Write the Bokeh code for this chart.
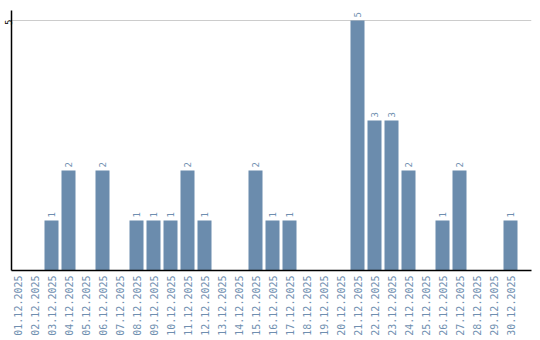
import math
from bokeh.plotting import figure
from bokeh.models import ColumnDataSource, Range1d, FixedTicker, Title
from bokeh.core.properties import value
from bokeh.embed import file_html
from bokeh.resources import INLINE

dates = ["01.12.2025", "02.12.2025", "03.12.2025", "04.12.2025", "05.12.2025",
         "06.12.2025", "07.12.2025", "08.12.2025", "09.12.2025", "10.12.2025",
         "11.12.2025", "12.12.2025", "13.12.2025", "14.12.2025", "15.12.2025",
         "16.12.2025", "17.12.2025", "18.12.2025", "19.12.2025", "20.12.2025",
         "21.12.2025", "22.12.2025", "23.12.2025", "24.12.2025", "25.12.2025",
         "26.12.2025", "27.12.2025", "28.12.2025", "29.12.2025", "30.12.2025"]
counts = [0, 0, 1, 2, 0, 2, 0, 1, 1, 1, 2, 1, 0, 0, 2, 1, 1, 0, 0, 0,
          5, 3, 3, 2, 0, 1, 2, 0, 0, 1]
y_ticks = [5]
y_tick_labels = ["5"]

BAR = "#6b8cad"
LABEL = "#6f8fb0"
FONT = "DejaVu Sans Mono"

idx = list(range(len(dates)))
src = ColumnDataSource(dict(x=idx, y=counts))
nz = [(i, c) for i, c in zip(idx, counts) if c > 0]
lab = ColumnDataSource(dict(x=[i for i, _ in nz], y=[c for _, c in nz],
                            t=[str(c) for _, c in nz]))

p = figure(width=540, height=340, output_backend="svg", toolbar_location=None,
           x_range=Range1d(-6 / 17, 29 + 21 / 17), y_range=Range1d(0, 5.2))
p.min_border_left = 11
p.min_border_right = 9
p.min_border_top = 10
p.min_border_bottom = 70
p.outline_line_color = None
p.background_fill_color = "white"
p.border_fill_color = "white"

p.vbar(x="x", top="y", width=14 / 17, source=src, fill_color=BAR, line_color=None)
p.text(x="x", y="y", text="t", source=lab, angle=math.pi / 2, text_align="left",
       text_baseline="middle", y_offset=-3, text_color=LABEL,
       text_font=value(FONT), text_font_size="9px")

p.xgrid.visible = False
p.ygrid.ticker = FixedTicker(ticks=y_ticks)
p.ygrid.grid_line_color = "#cccccc"
p.ygrid.grid_line_width = 1

xa = p.xaxis[0]
xa.ticker = FixedTicker(ticks=idx)
xa.major_label_overrides = {i: d for i, d in zip(idx, dates)}
xa.major_label_orientation = math.pi / 2
xa.major_label_text_color = LABEL
xa.major_label_text_font = FONT
xa.major_label_text_font_size = "10px"
xa.major_tick_out = 0
xa.major_tick_in = 0
xa.minor_tick_out = 0
xa.minor_tick_in = 0
xa.major_label_standoff = 5
xa.axis_line_color = "black"
xa.axis_line_width = 1.5

ya = p.yaxis[0]
ya.ticker = FixedTicker(ticks=y_ticks)
ya.major_label_overrides = {t: "" for t in y_ticks}
ya.major_tick_out = 0
ya.major_tick_in = 0
ya.minor_tick_out = 0
ya.minor_tick_in = 0
ya.major_label_standoff = 0
ya.axis_line_color = "black"
ya.axis_line_width = 1.5

# y tick label "5", placed left of the axis line at the level of the 5 gridline
p.add_layout(Title(text=y_tick_labels[0], align="right", offset=9, standoff=0,
                   text_font=FONT, text_font_size="9px", text_font_style="normal",
                   text_color="black"), "left")

open("out.html", "w").write(file_html(p, INLINE))
